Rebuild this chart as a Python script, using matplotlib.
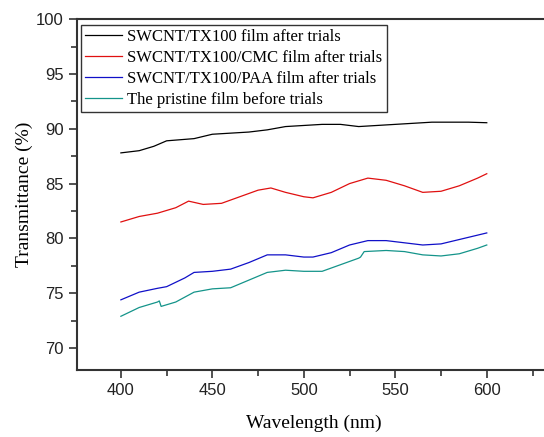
import matplotlib.pyplot as plt
from matplotlib.ticker import MultipleLocator

# values (wavelength nm, transmittance %)
wl_black = [400, 410, 418, 425, 440, 450, 460, 470, 480, 490, 500, 510, 520, 530, 540, 550, 560, 570, 580, 590, 600]
t_black = [87.8, 88.0, 88.4, 88.9, 89.1, 89.5, 89.6, 89.7, 89.9, 90.2, 90.3, 90.4, 90.4, 90.2, 90.3, 90.4, 90.5, 90.6, 90.6, 90.6, 90.55]

wl_red = [400, 410, 420, 430, 437, 445, 455, 465, 475, 482, 490, 500, 505, 515, 525, 535, 545, 555, 565, 575, 585, 595, 600]
t_red = [81.5, 82.0, 82.3, 82.8, 83.4, 83.1, 83.2, 83.8, 84.4, 84.6, 84.2, 83.8, 83.7, 84.2, 85.0, 85.5, 85.3, 84.8, 84.2, 84.3, 84.8, 85.5, 85.9]

wl_blue = [400, 410, 420, 425, 435, 440, 450, 460, 470, 480, 490, 500, 505, 515, 525, 535, 545, 555, 565, 575, 585, 595, 600]
t_blue = [74.4, 75.1, 75.45, 75.6, 76.4, 76.9, 77.0, 77.2, 77.8, 78.5, 78.5, 78.3, 78.3, 78.7, 79.4, 79.8, 79.8, 79.6, 79.4, 79.5, 79.9, 80.3, 80.5]

wl_teal = [400, 410, 420, 421, 422, 430, 440, 450, 460, 470, 480, 490, 500, 510, 520, 530, 531, 533, 545, 555, 565, 575, 585, 595, 600]
t_teal = [72.9, 73.7, 74.2, 74.3, 73.8, 74.2, 75.1, 75.4, 75.5, 76.2, 76.9, 77.1, 77.0, 77.0, 77.6, 78.2, 78.3, 78.8, 78.9, 78.8, 78.5, 78.4, 78.6, 79.1, 79.4]

labels = ["SWCNT/TX100 film after trials",
          "SWCNT/TX100/CMC film after trials",
          "SWCNT/TX100/PAA film after trials",
          "The pristine film before trials"]

fig = plt.figure(figsize=(5.44, 4.37), dpi=100)
ax = fig.add_axes([0.1415, 0.1533, 0.871, 0.803])

ax.plot(wl_black, t_black, color='black', lw=0.9, label=labels[0])
ax.plot(wl_red, t_red, color='#e01010', lw=0.9, label=labels[1])
ax.plot(wl_blue, t_blue, color='#1010c8', lw=0.9, label=labels[2])
ax.plot(wl_teal, t_teal, color='#14948a', lw=0.9, label=labels[3])

ax.set_xlim(376, 635)
ax.set_ylim(68, 100)
ax.xaxis.set_major_locator(MultipleLocator(50))
ax.xaxis.set_minor_locator(MultipleLocator(25))
ax.yaxis.set_major_locator(MultipleLocator(5))
ax.yaxis.set_minor_locator(MultipleLocator(2.5))
ax.tick_params(which='both', direction='out', color='#333333', width=1.2,
               labelsize=12, labelfontfamily='Liberation Sans', labelcolor='#222222')
ax.tick_params(which='major', length=6)
ax.tick_params(which='minor', length=4)
for s in ax.spines.values():
    s.set_linewidth(1.5)
    s.set_color('#333333')

ax.set_xlabel("Wavelength (nm)", family='Liberation Serif', fontsize=14, labelpad=12)
ax.set_ylabel("Transmittance (%)", family='Liberation Serif', fontsize=14, labelpad=2)

leg = ax.legend(loc='upper left', bbox_to_anchor=(0.008, 0.983), borderaxespad=0,
                fancybox=False, prop={'family': 'Liberation Serif', 'size': 12},
                handlelength=2.2, handletextpad=0.35, borderpad=0.25,
                labelspacing=0.3, framealpha=1)
leg.get_frame().set_edgecolor('#333333')
leg.get_frame().set_linewidth(1.0)

fig.savefig("out.png", dpi=100)
